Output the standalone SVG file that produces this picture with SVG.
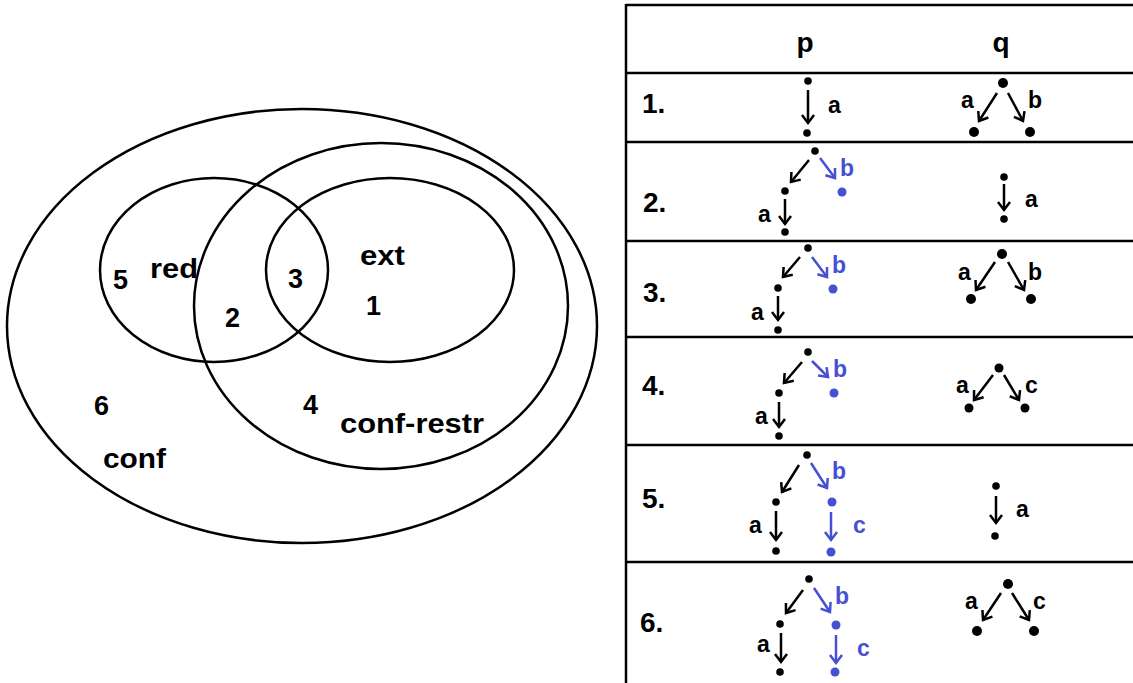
<svg xmlns="http://www.w3.org/2000/svg" width="1133" height="683" viewBox="0 0 1133 683">
<style>
.v{fill:none;stroke:#000;stroke-width:2.5}
.vt{font-family:"Liberation Sans",Arial,sans-serif;font-weight:bold;font-size:27px;fill:#000}
.tl{stroke:#000;stroke-width:2.5}
.hd{font-family:"Liberation Sans",Arial,sans-serif;font-weight:bold;font-size:28px;fill:#000;text-anchor:middle}
.rl{font-family:"Liberation Sans",Arial,sans-serif;font-weight:bold;font-size:28px;fill:#000}
.lb{font-family:"Liberation Sans",Arial,sans-serif;font-weight:bold;font-size:23px;fill:#000}
.lbb{font-family:"Liberation Sans",Arial,sans-serif;font-weight:bold;font-size:23px;fill:#4650d0}
.e{stroke:#000;stroke-width:2.5;fill:none;marker-end:url(#ab)}
.eb{stroke:#4650d0;stroke-width:2.5;fill:none;marker-end:url(#au)}
.d{fill:#000}
.db{fill:#4650d0}
</style>
<defs>
<marker id="ab" markerUnits="userSpaceOnUse" markerWidth="20" markerHeight="20" viewBox="-10 -10 20 20" refX="0" refY="0" orient="auto">
<path d="M-8,-6 L0,0 L-8,6" fill="none" stroke="#000" stroke-width="2.5"/>
</marker>
<marker id="au" markerUnits="userSpaceOnUse" markerWidth="20" markerHeight="20" viewBox="-10 -10 20 20" refX="0" refY="0" orient="auto">
<path d="M-8,-6 L0,0 L-8,6" fill="none" stroke="#4650d0" stroke-width="2.5"/>
</marker>
</defs>
<rect width="1133" height="683" fill="#fff"/>

<g id="venn">
<g id="conf"><ellipse class="v" cx="302" cy="326" rx="295" ry="217"/>
<text class="vt" x="103" y="468" textLength="63" lengthAdjust="spacingAndGlyphs">conf</text>
<text class="vt" x="94" y="415">6</text></g>
<g id="conf-restr"><ellipse class="v" cx="381" cy="306" rx="187" ry="163"/>
<text class="vt" x="340" y="433" textLength="144" lengthAdjust="spacingAndGlyphs">conf-restr</text>
<text class="vt" x="303" y="414">4</text></g>
<g id="red"><ellipse class="v" cx="214" cy="270" rx="114" ry="92"/>
<text class="vt" x="150" y="278" textLength="48" lengthAdjust="spacingAndGlyphs">red</text>
<text class="vt" x="113" y="289">5</text>
<text class="vt" x="225" y="327">2</text></g>
<g id="ext"><ellipse class="v" cx="390" cy="270" rx="124" ry="92"/>
<text class="vt" x="360" y="265" textLength="45" lengthAdjust="spacingAndGlyphs">ext</text>
<text class="vt" x="366" y="315">1</text>
<text class="vt" x="288" y="288">3</text></g>
</g>

<g id="table">
<line class="tl" x1="626" y1="5" x2="1133" y2="5"/>
<line class="tl" x1="626" y1="4" x2="626" y2="683"/>
<line class="tl" x1="626" y1="73" x2="1133" y2="73"/>
<line class="tl" x1="626" y1="142" x2="1133" y2="142"/>
<line class="tl" x1="626" y1="241" x2="1133" y2="241"/>
<line class="tl" x1="626" y1="337" x2="1133" y2="337"/>
<line class="tl" x1="626" y1="445" x2="1133" y2="445"/>
<line class="tl" x1="626" y1="562" x2="1133" y2="562"/>
<text class="hd" x="805" y="52">p</text>
<text class="hd" x="1001" y="52">q</text>
<text class="rl" x="642" y="113">1.</text>
<text class="rl" x="643" y="212">2.</text>
<text class="rl" x="643" y="302">3.</text>
<text class="rl" x="642" y="395">4.</text>
<text class="rl" x="642" y="508">5.</text>
<text class="rl" x="640" y="632">6.</text>
</g>

<g id="nodes">
<g id="r1p"><circle class="d" cx="808" cy="81" r="3.8"/><circle class="d" cx="807" cy="133" r="3.8"/>
<text class="lb" x="828" y="113">a</text></g>
<g id="r1q"><circle class="d" cx="1003" cy="83" r="5"/><circle class="d" cx="974" cy="132" r="5"/><circle class="d" cx="1030" cy="132" r="5"/>
<text class="lb" x="961" y="108">a</text><text class="lb" x="1028" y="108">b</text></g>
<g id="r2p"><circle class="d" cx="815" cy="151" r="3.8"/><circle class="d" cx="785" cy="191" r="3.8"/><circle class="d" cx="785" cy="232" r="3.8"/><circle class="db" cx="842" cy="192" r="4.5"/>
<text class="lb" x="758" y="222">a</text><text class="lbb" x="840" y="176">b</text></g>
<g id="r2q"><circle class="d" cx="1004" cy="177" r="3.8"/><circle class="d" cx="1004" cy="219" r="3.8"/>
<text class="lb" x="1025" y="207">a</text></g>
<g id="r3p"><circle class="d" cx="808" cy="248" r="3.8"/><circle class="d" cx="778" cy="288" r="3.8"/><circle class="d" cx="778" cy="330" r="3.8"/><circle class="db" cx="833" cy="289" r="4.5"/>
<text class="lb" x="751" y="320">a</text><text class="lbb" x="832" y="273">b</text></g>
<g id="r3q"><circle class="d" cx="1002" cy="254" r="5"/><circle class="d" cx="971" cy="299" r="5"/><circle class="d" cx="1031" cy="299" r="5"/>
<text class="lb" x="958" y="280">a</text><text class="lb" x="1028" y="280">b</text></g>
<g id="r4p"><circle class="d" cx="808" cy="352" r="3.8"/><circle class="d" cx="779" cy="393" r="3.8"/><circle class="d" cx="779" cy="436" r="3.8"/><circle class="db" cx="834" cy="393" r="4.5"/>
<text class="lb" x="755" y="424">a</text><text class="lbb" x="833" y="377">b</text></g>
<g id="r4q"><circle class="d" cx="999" cy="368" r="4.5"/><circle class="d" cx="969" cy="408" r="4.5"/><circle class="d" cx="1025" cy="408" r="4.5"/>
<text class="lb" x="956" y="393">a</text><text class="lb" x="1025" y="393">c</text></g>
<g id="r5p"><circle class="d" cx="807" cy="455" r="3.8"/><circle class="d" cx="776" cy="502" r="3.8"/><circle class="d" cx="776" cy="551" r="3.8"/><circle class="db" cx="832" cy="502" r="4.5"/><circle class="db" cx="831" cy="552" r="4.5"/>
<text class="lb" x="749" y="533">a</text><text class="lbb" x="832" y="479">b</text><text class="lbb" x="853" y="533">c</text></g>
<g id="r5q"><circle class="d" cx="996" cy="486" r="3.8"/><circle class="d" cx="995" cy="536" r="3.8"/>
<text class="lb" x="1016" y="517">a</text></g>
<g id="r6p"><circle class="d" cx="809" cy="579" r="3.8"/><circle class="d" cx="780" cy="624" r="3.8"/><circle class="d" cx="780" cy="672" r="3.8"/><circle class="db" cx="836" cy="625" r="4.5"/><circle class="db" cx="835" cy="672" r="4.5"/>
<text class="lb" x="757" y="652">a</text><text class="lbb" x="835" y="604">b</text><text class="lbb" x="857" y="656">c</text></g>
<g id="r6q"><circle class="d" cx="1008" cy="584" r="5"/><circle class="d" cx="977" cy="631" r="5"/><circle class="d" cx="1034" cy="631" r="5"/>
<text class="lb" x="965" y="609">a</text><text class="lb" x="1033" y="609">c</text></g>
</g>

<g id="connectors">
<line class="e" x1="808" y1="90" x2="808" y2="123"/>
<line class="e" x1="997" y1="93" x2="979" y2="121"/>
<line class="e" x1="1008" y1="93" x2="1023" y2="121"/>
<line class="e" x1="809" y1="160" x2="791" y2="182"/>
<line class="e" x1="785" y1="199" x2="785" y2="224"/>
<line class="eb" x1="820" y1="158" x2="835" y2="178"/>
<line class="e" x1="1004" y1="184" x2="1004" y2="210"/>
<line class="e" x1="800" y1="257" x2="783" y2="277"/>
<line class="e" x1="778" y1="296" x2="778" y2="320"/>
<line class="eb" x1="812" y1="257" x2="827" y2="277"/>
<line class="e" x1="995" y1="262" x2="976" y2="290"/>
<line class="e" x1="1008" y1="262" x2="1024" y2="290"/>
<line class="e" x1="802" y1="362" x2="784" y2="383"/>
<line class="e" x1="779" y1="402" x2="779" y2="427"/>
<line class="eb" x1="812" y1="361" x2="828" y2="377"/>
<line class="e" x1="993" y1="375" x2="974" y2="400"/>
<line class="e" x1="1004" y1="375" x2="1019" y2="400"/>
<line class="e" x1="799" y1="465" x2="782" y2="492"/>
<line class="e" x1="776" y1="511" x2="776" y2="540"/>
<line class="eb" x1="811" y1="463" x2="827" y2="488"/>
<line class="eb" x1="831" y1="512" x2="831" y2="540"/>
<line class="e" x1="996" y1="496" x2="996" y2="523"/>
<line class="e" x1="803" y1="590" x2="786" y2="613"/>
<line class="e" x1="781" y1="633" x2="781" y2="662"/>
<line class="eb" x1="814" y1="588" x2="830" y2="612"/>
<line class="eb" x1="836" y1="635" x2="836" y2="663"/>
<line class="e" x1="1001" y1="593" x2="983" y2="620"/>
<line class="e" x1="1012" y1="593" x2="1029" y2="620"/>
</g>
</svg>
